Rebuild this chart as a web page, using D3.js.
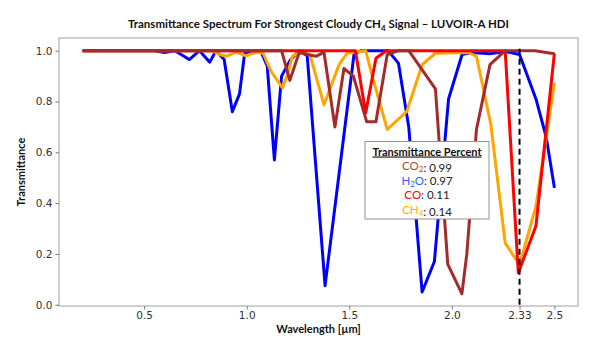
<!DOCTYPE html>
<html>
<head>
<meta charset="utf-8">
<script src="https://cdn.jsdelivr.net/npm/d3@7"></script>
<style>
  body { margin: 0; background: #fff; }
  svg { display: block; }
</style>
</head>
<body>
<div id="chart"></div>
<script>
// wavelength grid (µm) and transmittance, one pair per gas
const wlCO2 = [0.2, 1.17, 1.21, 1.256, 1.337, 1.377, 1.43, 1.474, 1.52, 1.585, 1.63, 1.685, 1.74, 1.79, 1.92, 1.98, 2.049, 2.073, 2.12, 2.186, 2.26, 2.405, 2.5];
const tCO2  = [1.0, 1.0, 0.883, 0.993, 0.978, 0.993, 0.70, 0.93, 0.90, 0.72, 0.72, 0.985, 1.0, 1.0, 0.85, 0.16, 0.043, 0.20, 0.69, 0.945, 1.0, 1.0, 0.988];

const wlH2O = [0.2, 0.55, 0.6, 0.65, 0.72, 0.77, 0.82, 0.85, 0.89, 0.93, 0.965, 0.99, 1.07, 1.10, 1.135, 1.17, 1.21, 1.255, 1.295, 1.382, 1.523, 1.555, 1.69, 1.74, 1.79, 1.815, 1.855, 1.915, 1.984, 2.05, 2.096, 2.186, 2.26, 2.33, 2.41, 2.46, 2.5];
const tH2O  = [1.0, 1.0, 0.993, 1.0, 0.965, 1.0, 0.955, 1.0, 0.965, 0.76, 0.83, 0.99, 0.995, 0.94, 0.57, 0.90, 0.96, 1.0, 0.98, 0.075, 0.985, 1.0, 1.0, 0.95, 0.70, 0.45, 0.05, 0.17, 0.81, 0.985, 0.993, 0.988, 0.997, 0.985, 0.81, 0.66, 0.46];

const wlCO = [0.2, 1.53, 1.58, 1.63, 1.68, 2.26, 2.324, 2.41, 2.5];
const tCO  = [1.0, 1.0, 0.755, 0.97, 1.0, 1.0, 0.125, 0.31, 0.99];

const wlCH4 = [0.2, 0.83, 0.867, 0.9, 0.95, 0.997, 1.046, 1.08, 1.118, 1.175, 1.2, 1.223, 1.27, 1.31, 1.377, 1.45, 1.49, 1.58, 1.612, 1.685, 1.78, 1.855, 1.92, 2.08, 2.12, 2.19, 2.26, 2.33, 2.41, 2.5];
const tCH4  = [1.0, 1.0, 0.985, 0.978, 0.994, 0.98, 0.994, 0.99, 0.92, 0.853, 0.91, 0.978, 1.0, 0.98, 0.787, 0.945, 0.99, 1.0, 0.90, 0.69, 0.76, 0.945, 0.99, 0.993, 0.978, 0.71, 0.243, 0.157, 0.387, 0.873];

const xTicks = [0.5, 1.0, 1.5, 2.0, 2.33, 2.5];
const yTicks = [0, 0.2, 0.4, 0.6, 0.8, 1.0];
const markerWl = 2.33;

// legend: gas name parts (base, subscript, rest), value
const legendNames  = [["CO", "2"], ["H", "2", "O"], ["CO", ""], ["CH", "4"]];
const legendValues = [0.99, 0.97, 0.11, 0.14];
const legendColors = ["#a0522d", "#2a64ff", "#ff0000", "#ffb000"];

// drawing order: water first, carbon dioxide on top
const series = [
  { wl: wlH2O, t: tH2O, color: "blue" },
  { wl: wlCH4, t: tCH4, color: "orange" },
  { wl: wlCO,  t: tCO,  color: "red" },
  { wl: wlCO2, t: tCO2, color: "brown" }
];

const W = 598, H = 339;
const margin = { left: 59, right: 20, top: 38, bottom: 33 };

const svg = d3.select("#chart").append("svg")
  .attr("width", W)
  .attr("height", H);

const x = d3.scaleLinear().domain([0.085, 2.615]).range([margin.left, W - margin.right]);
const y = d3.scaleLinear().domain([-0.005, 1.05]).range([H - margin.bottom, margin.top]);

// lines
const line = d3.line()
  .x(d => x(d[0]))
  .y(d => y(d[1]));

series.forEach(s => {
  svg.append("path")
    .datum(s.wl.map((w, i) => [w, s.t[i]]))
    .attr("d", line)
    .attr("fill", "none")
    .attr("stroke", s.color)
    .attr("stroke-width", 3)
    .attr("stroke-linejoin", "round");
});

// dashed marker at 2.33 µm
svg.append("line")
  .attr("x1", x(markerWl)).attr("x2", x(markerWl))
  .attr("y1", y(0)).attr("y2", y(1.02))
  .attr("stroke", "#000")
  .attr("stroke-width", 2)
  .attr("stroke-dasharray", "6,4");

// frame
svg.append("rect")
  .attr("x", margin.left).attr("y", margin.top)
  .attr("width", W - margin.left - margin.right)
  .attr("height", H - margin.top - margin.bottom)
  .attr("fill", "none")
  .attr("stroke", "#a0a0a0")
  .attr("stroke-width", 1);

// axes
const xAxis = svg.append("g")
  .attr("transform", `translate(0,${H - margin.bottom})`)
  .call(d3.axisBottom(x).tickValues(xTicks).tickSize(3.5).tickPadding(2.5)
    .tickFormat(d => d === 2.33 ? "2.33" : d3.format(".1f")(d)));

const yAxis = svg.append("g")
  .attr("transform", `translate(${margin.left},0)`)
  .call(d3.axisLeft(y).tickValues(yTicks).tickSize(3.5).tickPadding(3)
    .tickFormat(d3.format(".1f")));

[xAxis, yAxis].forEach(g => {
  g.select(".domain").remove();
  g.selectAll(".tick line").attr("stroke", "#777");
  g.selectAll(".tick text")
    .attr("fill", "#333")
    .style("font-family", "DejaVu Sans, sans-serif")
    .style("font-size", "10.5px");
});

// title
const title = svg.append("text")
  .attr("x", (margin.left + W - margin.right) / 2)
  .attr("y", 28)
  .attr("text-anchor", "middle")
  .style("font-family", "Lato, sans-serif")
  .style("font-weight", "bold")
  .style("font-size", "11.5px")
  .attr("fill", "#111");
title.append("tspan").text("Transmittance Spectrum For Strongest Cloudy CH");
title.append("tspan").text("4").attr("dy", 2.5).style("font-size", "8px");
title.append("tspan").text(" Signal \u2013 LUVOIR-A HDI").attr("dy", -2.5);

// axis labels
svg.append("text")
  .attr("x", (margin.left + W - margin.right) / 2)
  .attr("y", 333)
  .attr("text-anchor", "middle")
  .style("font-family", "Lato, sans-serif")
  .style("font-weight", "bold")
  .style("font-size", "11px")
  .attr("fill", "#111")
  .text("Wavelength [\u00b5m]");

svg.append("text")
  .attr("transform", `translate(25,${(margin.top + H - margin.bottom) / 2}) rotate(-90)`)
  .attr("text-anchor", "middle")
  .style("font-family", "Lato, sans-serif")
  .style("font-weight", "bold")
  .style("font-size", "11px")
  .attr("fill", "#111")
  .text("Transmittance");

// legend box
const lg = { x: 365, y: 141.5, w: 124, h: 77.5 };
const legend = svg.append("g");
legend.append("rect")
  .attr("x", lg.x).attr("y", lg.y)
  .attr("width", lg.w).attr("height", lg.h)
  .attr("fill", "#fff")
  .attr("stroke", "#909090")
  .attr("stroke-width", 1);

const cx = lg.x + lg.w / 2;
legend.append("text")
  .attr("x", cx).attr("y", lg.y + 14)
  .attr("text-anchor", "middle")
  .style("font-family", "Lato, sans-serif")
  .style("font-weight", "bold")
  .style("font-size", "11px")
  .style("text-decoration", "underline")
  .attr("fill", "#111")
  .text("Transmittance Percent");

legendNames.forEach((parts, i) => {
  const t = legend.append("text")
    .attr("x", cx).attr("y", lg.y + 28.5 + i * 14.7)
    .attr("text-anchor", "middle")
    .style("font-family", "Lato, sans-serif")
    .style("font-size", "11.5px");
  t.append("tspan").text(parts[0]).attr("fill", legendColors[i]);
  if (parts[1]) {
    t.append("tspan").text(parts[1]).attr("fill", legendColors[i])
      .attr("dy", 2).style("font-size", "8px");
    t.append("tspan").text(parts[2] || "").attr("fill", legendColors[i]).attr("dy", -2);
  }
  t.append("tspan").text(": " + legendValues[i].toFixed(2)).attr("fill", "#222");
});
</script>
</body>
</html>
